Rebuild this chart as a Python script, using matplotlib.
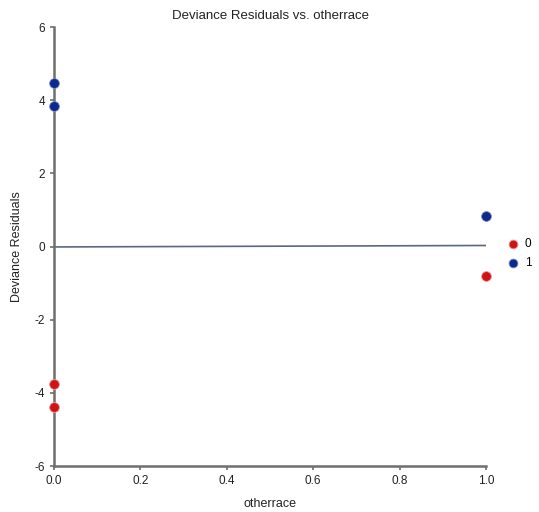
import matplotlib
matplotlib.use("Agg")
import matplotlib.pyplot as plt

plt.rcParams["font.family"] = ["Liberation Sans", "DejaVu Sans"]
plt.rcParams["axes.unicode_minus"] = False

# data
x_red = [0, 0, 1]
y_red = [-3.76, -4.39, -0.81]
x_blue = [0, 0, 1]
y_blue = [4.47, 3.84, 0.83]
xticks = [0.0, 0.2, 0.4, 0.6, 0.8, 1.0]
xticklabels = ["0.0", "0.2", "0.4", "0.6", "0.8", "1.0"]
yticks = [-6, -4, -2, 0, 2, 4, 6]
ref_x = [0, 1]
ref_y = [-0.01, 0.03]

fig = plt.figure(figsize=(5.39, 5.12), dpi=100)
ax = fig.add_axes([0.1002, 0.0898, 0.8015, 0.8572])

ax.plot(ref_x, ref_y, color="#5b6687", lw=1.2, zorder=2)
ax.scatter(x_red, y_red, s=50, color="#d01414", edgecolors="#f0a0a0", linewidths=0.6,
           zorder=3, clip_on=False, label="0")
ax.scatter(x_blue, y_blue, s=50, color="#0b2a8c", edgecolors="#8090c0", linewidths=0.6,
           zorder=3, clip_on=False, label="1")

ax.set_xlim(0, 1)
ax.set_ylim(-6, 6)
ax.set_xticks(xticks)
ax.set_xticklabels(xticklabels)
ax.set_yticks(yticks)
for s in ["top", "right"]:
    ax.spines[s].set_visible(False)
for s in ["left", "bottom"]:
    ax.spines[s].set_color("#6e6e6e")
    ax.spines[s].set_linewidth(1.8)
ax.tick_params(axis="both", colors="#6e6e6e", labelcolor="#222222", labelsize=8.5,
               length=3, width=1.2)

ax.set_title("Deviance Residuals vs. otherrace", fontsize=9.5, pad=6, color="#222222")
ax.set_xlabel("otherrace", fontsize=9, color="#222222", labelpad=8)
ax.set_ylabel("Deviance Residuals", fontsize=9, color="#222222", labelpad=8)

fig.legend(loc="center left", bbox_to_anchor=(0.941, 0.505), frameon=False,
           fontsize=8.5, handletextpad=0.5, borderaxespad=0, borderpad=0,
           labelspacing=0.55, handlelength=1.0, markerscale=0.9)

fig.savefig("out.png", dpi=100)
